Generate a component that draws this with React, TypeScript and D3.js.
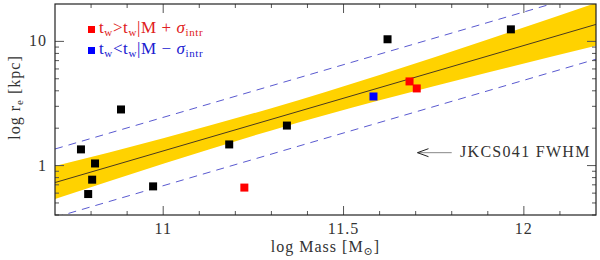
import React from 'react';
import * as d3 from 'd3';

// black = normal, red = older than relation + sigma, blue = younger than relation - sigma
const massBlack = [10.772, 10.792, 10.803, 10.811, 10.883, 10.972, 11.183, 11.343, 11.622, 11.964];
const reBlack = [1.35, 0.59, 0.77, 1.04, 2.83, 0.68, 1.48, 2.1, 10.4, 12.5];
const massRed = [11.225, 11.683, 11.703];
const reRed = [0.665, 4.76, 4.18];
const massBlue = [11.583];
const reBlue = [3.6];

// fit and its band
const fitMass = [10.7, 12.2];
const fitRe = [0.73, 13.7];
const bandMass = [10.7, 11.0, 11.3, 11.6, 11.9, 12.2];
const bandLow = [0.537, 1.036, 1.92, 3.35, 5.61, 9.23];
const bandHigh = [0.99, 1.66, 2.9, 5.37, 10.35, 20.4];
const dashUpper = [1.36, 25.5];
const dashLower = [0.383, 7.19];

const xMajor = [11, 11.5, 12];
const xMinor = [10.8, 10.9, 11.1, 11.2, 11.3, 11.4, 11.6, 11.7, 11.8, 11.9, 12.1];
const yMajor = [1, 10];
const yMinor = [0.4, 0.5, 0.6, 0.7, 0.8, 0.9, 2, 3, 4, 5, 6, 7, 8, 9];

const fwhmRe = 1.27;
const arrowFrom = 11.8;
const arrowTo = 11.705;

const W = 600;
const H = 260;
const L = 55, R = 596, T = 4, B = 215;
const font = "'Liberation Serif', 'DejaVu Serif', serif";

export default function App() {
  const x = d3.scaleLinear().domain([10.7, 12.2]).range([L, R]);
  const y = d3.scaleLog().domain([0.4, 20]).range([B, T]);

  const band = d3
    .area<number>()
    .x((d, i) => x(bandMass[i]))
    .y0((d, i) => y(bandLow[i]))
    .y1((d, i) => y(bandHigh[i]))
    .curve(d3.curveMonotoneX);
  const line = d3
    .line<number>()
    .x((d) => x(d[0]))
    .y((d) => y(d[1]));

  const fit = line(fitMass.map((m, i) => [m, fitRe[i]]) as any);
  const up = line(fitMass.map((m, i) => [m, dashUpper[i]]) as any);
  const lo = line(fitMass.map((m, i) => [m, dashLower[i]]) as any);

  const sq = 8;
  const squares = (ms: number[], rs: number[], fill: string) =>
    ms.map((m, i) => (
      <rect key={fill + i} x={x(m) - sq / 2} y={y(rs[i]) - sq / 2} width={sq} height={sq} fill={fill} />
    ));

  const ay = y(fwhmRe);
  const ax0 = x(arrowFrom);
  const ax1 = x(arrowTo);

  return (
    <svg width={W} height={H} style={{ position: 'absolute', left: 0, top: 0, background: '#fff', fontFamily: font }}>
      <defs>
        <clipPath id="plot">
          <rect x={L} y={T} width={R - L} height={B - T} />
        </clipPath>
      </defs>
      <g clipPath="url(#plot)">
        <path d={band(bandMass) || ''} fill="#ffd200" />
        <path d={fit || ''} stroke="#4a3a20" strokeWidth={1} fill="none" />
        <path d={up || ''} stroke="#5a5ad0" strokeWidth={1} strokeDasharray="8,6" fill="none" />
        <path d={lo || ''} stroke="#5a5ad0" strokeWidth={1} strokeDasharray="8,6" fill="none" />
        {squares(massBlack, reBlack, '#000')}
        {squares(massRed, reRed, '#ff0000')}
        {squares(massBlue, reBlue, '#0000ff')}
      </g>

      {/* ticks, mirrored on all sides */}
      <g stroke="#555" strokeWidth={1}>
        {xMajor.map((v) => (
          <g key={'xM' + v}>
            <line x1={x(v)} x2={x(v)} y1={B} y2={B - 9} />
            <line x1={x(v)} x2={x(v)} y1={T} y2={T + 9} />
          </g>
        ))}
        {xMinor.map((v) => (
          <g key={'xm' + v}>
            <line x1={x(v)} x2={x(v)} y1={B} y2={B - 4} />
            <line x1={x(v)} x2={x(v)} y1={T} y2={T + 4} />
          </g>
        ))}
        {yMajor.map((v) => (
          <g key={'yM' + v}>
            <line x1={L} x2={L + 9} y1={y(v)} y2={y(v)} />
            <line x1={R} x2={R - 9} y1={y(v)} y2={y(v)} />
          </g>
        ))}
        {yMinor.map((v) => (
          <g key={'ym' + v}>
            <line x1={L} x2={L + 4} y1={y(v)} y2={y(v)} />
            <line x1={R} x2={R - 4} y1={y(v)} y2={y(v)} />
          </g>
        ))}
      </g>
      <rect x={L} y={T} width={R - L} height={B - T} fill="none" stroke="#222" strokeWidth={1.2} />

      <g fill="#333" fontSize={16} letterSpacing={1}>
        {xMajor.map((v) => (
          <text key={'xl' + v} x={x(v)} y={234} textAnchor="middle">
            {d3.format('')(v)}
          </text>
        ))}
        {yMajor.map((v) => (
          <text key={'yl' + v} x={47} y={y(v) + 5} textAnchor="end">
            {v}
          </text>
        ))}
        <text x={(L + R) / 2} y={252} textAnchor="middle">
          log Mass [M<tspan fontSize={11} dy={3}>⊙</tspan>
          <tspan dy={-3}>]</tspan>
        </text>
        <text transform={`translate(20,${(T + B) / 2 - 12}) rotate(-90)`} textAnchor="middle">
          log r<tspan fontSize={11} dy={3}>e</tspan>
          <tspan dy={-3}> [kpc]</tspan>
        </text>
      </g>

      {/* legend */}
      <rect x={88} y={26} width={7} height={7} fill="#ff0000" />
      <text x={99} y={33} fill="#e02020" fontSize={17} letterSpacing={0.6}>
        t<tspan fontSize={11} dy={3}>w</tspan>
        <tspan dy={-3}>&gt;t</tspan>
        <tspan fontSize={11} dy={3}>w</tspan>
        <tspan dy={-3}>|M + </tspan>
        <tspan fontStyle="italic">σ</tspan>
        <tspan fontSize={11} dy={3}>intr</tspan>
      </text>
      <rect x={88} y={47} width={7} height={7} fill="#0000ff" />
      <text x={99} y={54} fill="#2020d0" fontSize={17} letterSpacing={0.6}>
        t<tspan fontSize={11} dy={3}>w</tspan>
        <tspan dy={-3}>&lt;t</tspan>
        <tspan fontSize={11} dy={3}>w</tspan>
        <tspan dy={-3}>|M − </tspan>
        <tspan fontStyle="italic">σ</tspan>
        <tspan fontSize={11} dy={3}>intr</tspan>
      </text>

      {/* FWHM annotation */}
      <line x1={ax0} x2={ax1} y1={ay} y2={ay} stroke="#888" strokeWidth={1} />
      <polyline points={`${ax1 + 11},${ay - 4} ${ax1},${ay} ${ax1 + 11},${ay + 4}`} fill="none" stroke="#222" strokeWidth={1} />
      <text x={460} y={ay + 4} fill="#333" fontSize={16} letterSpacing={1.3}>
        JKCS041 FWHM
      </text>
    </svg>
  );
}
